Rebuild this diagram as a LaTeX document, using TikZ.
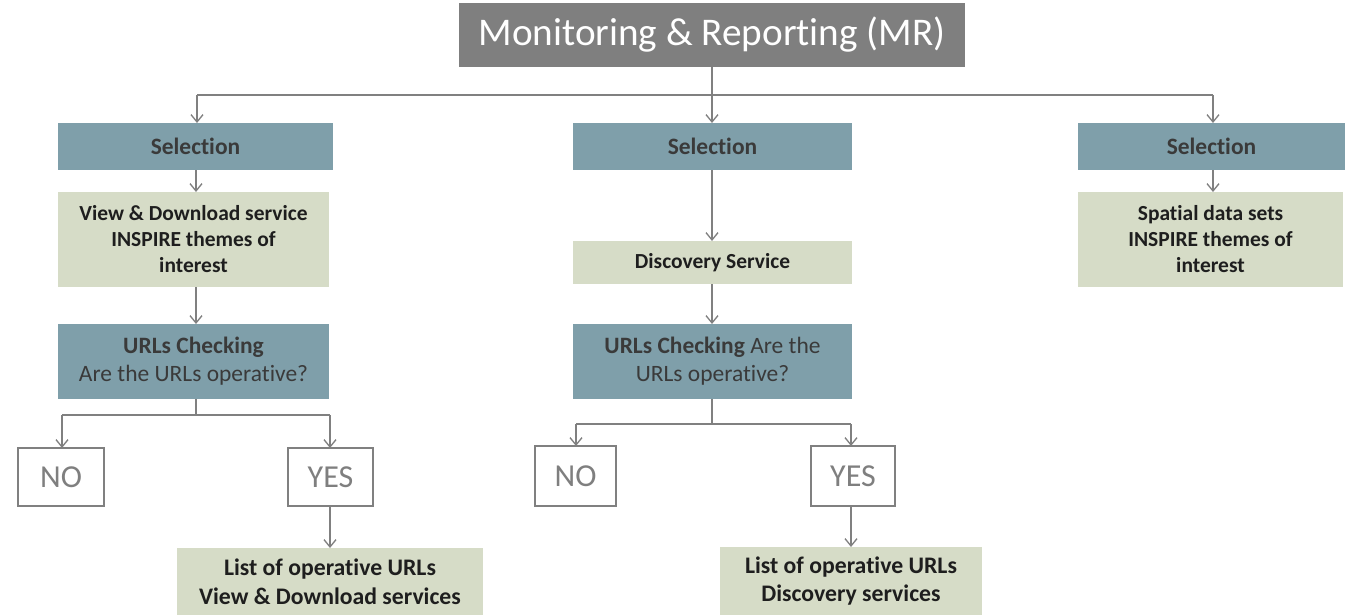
\documentclass[tikz,border=0pt]{standalone}
\usepackage{fontspec}
\setmainfont[Ligatures=NoCommon]{Carlito}
\usetikzlibrary{arrows.meta}
\definecolor{topgray}{HTML}{7F7F7F}
\definecolor{bluegray}{HTML}{7F9FAA}
\definecolor{sage}{HTML}{D6DCC7}
\definecolor{linegray}{HTML}{808080}
\definecolor{darktext}{HTML}{3A3A3A}
\definecolor{greentext}{HTML}{1E1E1E}
\begin{document}
\begin{tikzpicture}[x=0.75pt,y=-0.75pt,
  sz/.style 2 args={minimum width={(#1)*0.75pt}, minimum height={(#2)*0.75pt}},
  base/.style={rectangle, inner sep=0pt, outer sep=0pt, align=center},
  titlebox/.style={base, fill=topgray, text=white, font=\fontsize{29.4}{34}\selectfont},
  bluebox/.style={base, fill=bluegray, text=darktext, font=\fontsize{17.6}{21}\selectfont},
  greenbox/.style={base, fill=sage, text=greentext, font=\bfseries\fontsize{16.1}{19.5}\selectfont},
  listbox/.style={base, fill=sage, text=greentext, font=\bfseries\fontsize{17.8}{21.5}\selectfont},
  answer/.style={base, draw=linegray, line width=1pt, fill=white, text=topgray, font=\fontsize{24}{28}\selectfont},
  conn/.style={draw=linegray, line width=1pt},
  arr/.style={conn, -{Straight Barb[length=5.5pt,width=9pt]}}
]
\useasboundingbox (0,0) rectangle (1345,615);

% nodes
\node[titlebox, sz={506}{64}] (top) at (712,35) {Monitoring \& Reporting (MR)};

\node[bluebox, sz={275}{47}, font=\bfseries\fontsize{17.6}{21}\selectfont] (selL) at (195.5,146.5) {Selection};
\node[bluebox, sz={279}{47}, font=\bfseries\fontsize{17.6}{21}\selectfont] (selM) at (712.5,146.5) {Selection};
\node[bluebox, sz={267}{47}, font=\bfseries\fontsize{17.6}{21}\selectfont] (selR) at (1211.5,146.5) {Selection};

\node[greenbox, sz={271}{95}] (vdL) at (193.5,239.5) {View \& Download service\\INSPIRE themes of\\interest};
\node[greenbox, sz={279}{43}] (disc) at (712.5,262.5) {Discovery Service};
\node[greenbox, sz={265}{95}] (spR) at (1210.5,239.5) {Spatial data sets\\INSPIRE themes of\\interest};

\node[bluebox, sz={271}{75}] (urlL) at (193.5,361.5) {\textbf{URLs Checking}\\Are the URLs operative?};
\node[bluebox, sz={279}{75}] (urlM) at (712.5,361.5) {\textbf{URLs Checking} Are the\\URLs operative?};

\node[answer, sz={86}{58}] (noL) at (61,477) {NO};
\node[answer, sz={85}{58}] (yesL) at (330.5,477) {YES};
\node[answer, sz={81}{60}] (noM) at (575.5,476) {NO};
\node[answer, sz={84}{60}] (yesM) at (853,476) {YES};

\node[listbox, sz={306}{67}] (listL) at (330,581.5) {List of operative URLs\\View \& Download services};
\node[listbox, sz={262}{68}] (listM) at (851,581) {List of operative URLs\\Discovery services};

% junctions
\coordinate (hT) at (712,95);
\coordinate (hTL) at (197,95);
\coordinate (hTR) at (1213,95);
\coordinate (bL) at (196,415);
\coordinate (bLL) at (62,415);
\coordinate (bLR) at (330,415);
\coordinate (bM) at (712,424);
\coordinate (bML) at (576,424);
\coordinate (bMR) at (851,424);

% connectors
\draw[conn] (top.south) -- (hT);
\draw[conn] (hTL) -- (hTR);
\draw[arr] (hTL) -- (hTL |- selL.north);
\draw[arr] (hT) -- (hT |- selM.north);
\draw[arr] (hTR) -- (hTR |- selR.north);

\draw[arr] (bL |- selL.south) -- (bL |- vdL.north);
\draw[arr] (bL |- vdL.south) -- (bL |- urlL.north);
\draw[conn] (bL |- urlL.south) -- (bL);
\draw[conn] (bLL) -- (bLR);
\draw[arr] (bLL) -- (bLL |- noL.north);
\draw[arr] (bLR) -- (bLR |- yesL.north);
\draw[arr] (bLR |- yesL.south) -- (bLR |- listL.north);

\draw[arr] (bM |- selM.south) -- (bM |- disc.north);
\draw[arr] (bM |- disc.south) -- (bM |- urlM.north);
\draw[conn] (bM |- urlM.south) -- (bM);
\draw[conn] (bML) -- (bMR);
\draw[arr] (bML) -- (bML |- noM.north);
\draw[arr] (bMR) -- (bMR |- yesM.north);
\draw[arr] (bMR |- yesM.south) -- (bMR |- listM.north);

\draw[arr] (hTR |- selR.south) -- (hTR |- spR.north);
\end{tikzpicture}
\end{document}
